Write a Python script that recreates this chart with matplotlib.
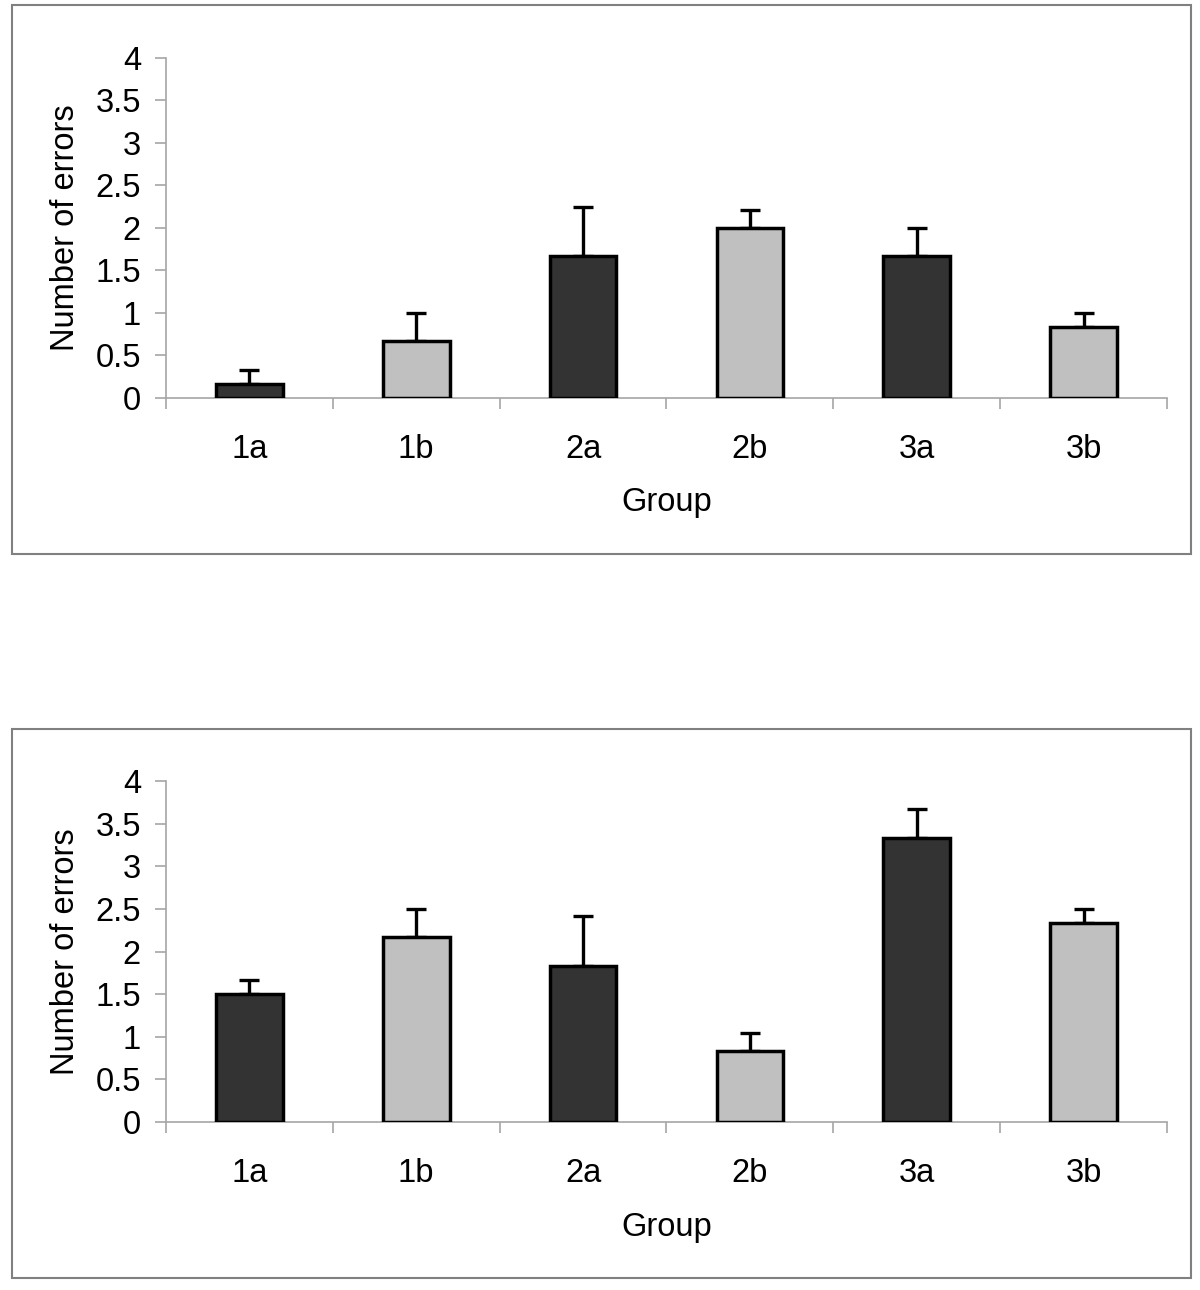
import matplotlib
matplotlib.use("Agg")
import matplotlib.pyplot as plt
from matplotlib.patches import Rectangle
from matplotlib.ticker import FixedLocator

plt.rcParams['font.family'] = ['Liberation Sans', 'DejaVu Sans']

groups = ['1a', '1b', '2a', '2b', '3a', '3b']
bar_colors = ['#333333', '#c0c0c0', '#333333', '#c0c0c0', '#333333', '#c0c0c0']

top_means = [0.167, 0.667, 1.667, 2.0, 1.667, 0.833]
top_errs = [0.167, 0.333, 0.58, 0.21, 0.333, 0.167]

bottom_means = [1.5, 2.167, 1.833, 0.833, 3.333, 2.333]
bottom_errs = [0.167, 0.333, 0.583, 0.21, 0.333, 0.167]

y_ticks = [0, 0.5, 1, 1.5, 2, 2.5, 3, 3.5, 4]
y_ticklabels = ['0', '0.5', '1', '1.5', '2', '2.5', '3', '3.5', '4']
ylabel = 'Number of errors'
xlabel = 'Group'

W, H = 1200, 1290
fig = plt.figure(figsize=(W / 100, H / 100), dpi=100)

axis_gray = '#a6a6a6'
box_gray = '#808080'
FS = 23.5


def px_rect(x0, y0, x1, y1):
    return [x0 / W, 1 - y1 / H, (x1 - x0) / W, (y1 - y0) / H]


def panel(ax_rect, box, means, errs):
    bx = px_rect(*box)
    fig.patches.append(Rectangle((bx[0], bx[1]), bx[2], bx[3], transform=fig.transFigure,
                                 fill=False, edgecolor=box_gray, linewidth=1.5, zorder=0))
    ax = fig.add_axes(px_rect(*ax_rect))
    x = list(range(len(groups)))
    ax.bar(x, means, width=0.4, color=bar_colors, edgecolor='black', linewidth=2.5, zorder=3)
    ax.errorbar(x, means, yerr=[[0] * len(errs), errs], fmt='none', ecolor='black',
                elinewidth=2.4, capsize=7, capthick=2.4, zorder=2)
    ax.set_xlim(-0.5, len(groups) - 0.5)
    ax.set_ylim(0, 4)
    for s in ['top', 'right']:
        ax.spines[s].set_visible(False)
    for s in ['left', 'bottom']:
        ax.spines[s].set_color(axis_gray)
        ax.spines[s].set_linewidth(1.2)
    ax.set_yticks(y_ticks)
    ax.set_yticklabels(y_ticklabels)
    ax.tick_params(axis='y', direction='out', length=8, width=1.2, color=axis_gray,
                   labelsize=FS, pad=10)
    ax.set_xticks(x)
    ax.set_xticklabels(groups)
    ax.tick_params(axis='x', which='major', length=0, labelsize=FS, pad=26)
    ax.xaxis.set_minor_locator(FixedLocator([i - 0.5 for i in range(len(groups) + 1)]))
    ax.tick_params(axis='x', which='minor', direction='out', length=8, width=1.2, color=axis_gray)
    ax.set_ylabel(ylabel, fontsize=FS, va='center')
    ax.yaxis.set_label_coords(-0.100, 0.5)
    ax.set_xlabel(xlabel, fontsize=FS, va='center')
    ax.xaxis.set_label_coords(0.5, -0.308)
    return ax


panel((166, 58, 1167, 398), (12, 5, 1191, 554), top_means, top_errs)
panel((166, 781, 1167, 1122), (12, 729, 1191, 1278), bottom_means, bottom_errs)

fig.savefig('out.png', dpi=100)
